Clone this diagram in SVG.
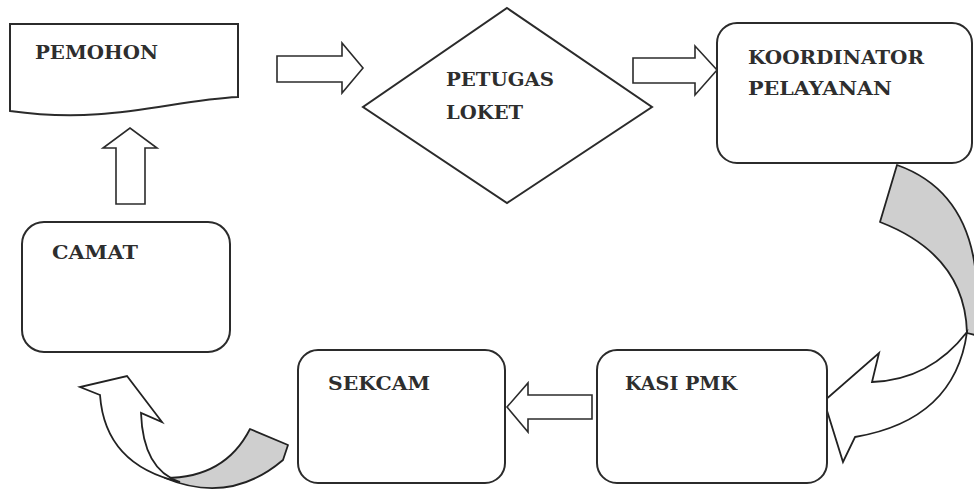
<svg xmlns="http://www.w3.org/2000/svg" width="974" height="496" viewBox="0 0 974 496">
<style>
.box{fill:#fff;stroke:#2b2b2b;stroke-width:2}
.blk{fill:#fff;stroke:#2b2b2b;stroke-width:1.6;stroke-linejoin:miter}
.gray{fill:#cfcfcf;stroke:#222;stroke-width:1.8;stroke-linejoin:round}
.wht{fill:#fff;stroke:#222;stroke-width:1.8;stroke-linejoin:miter}
.t{font-family:"DejaVu Serif","Liberation Serif",serif;font-weight:bold;font-size:19px;fill:#2e2e2e}
</style>
<rect width="974" height="496" fill="#fff"/>
<g id="connectors">
<path class="blk" d="M277,56 H342 V43 L363,68 L342,93 V82 H277 Z"/>
<path class="blk" d="M633,58 H695 V46 L717,70 L695,95 V83 H633 Z"/>
<path class="blk" d="M116,204 V148 H103 L130,128 L157,148 H145 V204 Z"/>
<path class="blk" d="M592,395 H528 V383 L507,407 L528,432 V419 H592 Z"/>
<path class="gray" d="M897,165 Q990,198 975,335 L967,333 Q965,255 880,222 Z"/>
<path class="wht" d="M967,332 Q930,380 872,382 L879,353 L824,401 L843,462 L855,437 Q955,420 967,332 Z"/>
<path class="gray" d="M250,429 L288,445 L283,460 Q230,505 165,478 Q225,478 250,429 Z"/>
<path class="wht" d="M100,395 L80,387 L127,376 L162,422 L141,413 Q143,470 180,482 Q105,465 100,395 Z"/>
</g>
<g id="pemohon">
<path class="box" d="M10,24 H238 V97 C170,100 110,125 10,111 Z"/>
<text class="t" x="35" y="59" textLength="123" lengthAdjust="spacingAndGlyphs">PEMOHON</text>
</g>
<g id="petugas-loket">
<path class="box" d="M507,8 L652,107 L507,203 L363,107 Z"/>
<text class="t" x="446" y="86" textLength="108" lengthAdjust="spacingAndGlyphs">PETUGAS</text>
<text class="t" x="446" y="119" textLength="77" lengthAdjust="spacingAndGlyphs">LOKET</text>
</g>
<g id="koordinator">
<rect class="box" x="717" y="23" width="255" height="140" rx="20"/>
<text class="t" x="748" y="64" textLength="176" lengthAdjust="spacingAndGlyphs">KOORDINATOR</text>
<text class="t" x="748" y="95" textLength="144" lengthAdjust="spacingAndGlyphs">PELAYANAN</text>
</g>
<g id="camat">
<rect class="box" x="22" y="222" width="208" height="130" rx="22"/>
<text class="t" x="52" y="259" textLength="86" lengthAdjust="spacingAndGlyphs">CAMAT</text>
</g>
<g id="sekcam">
<rect class="box" x="298" y="350" width="207" height="133" rx="20"/>
<text class="t" x="328" y="390" textLength="102" lengthAdjust="spacingAndGlyphs">SEKCAM</text>
</g>
<g id="kasi-pmk">
<rect class="box" x="597" y="350" width="230" height="133" rx="20"/>
<text class="t" x="625" y="390" textLength="112" lengthAdjust="spacingAndGlyphs">KASI PMK</text>
</g>
</svg>
